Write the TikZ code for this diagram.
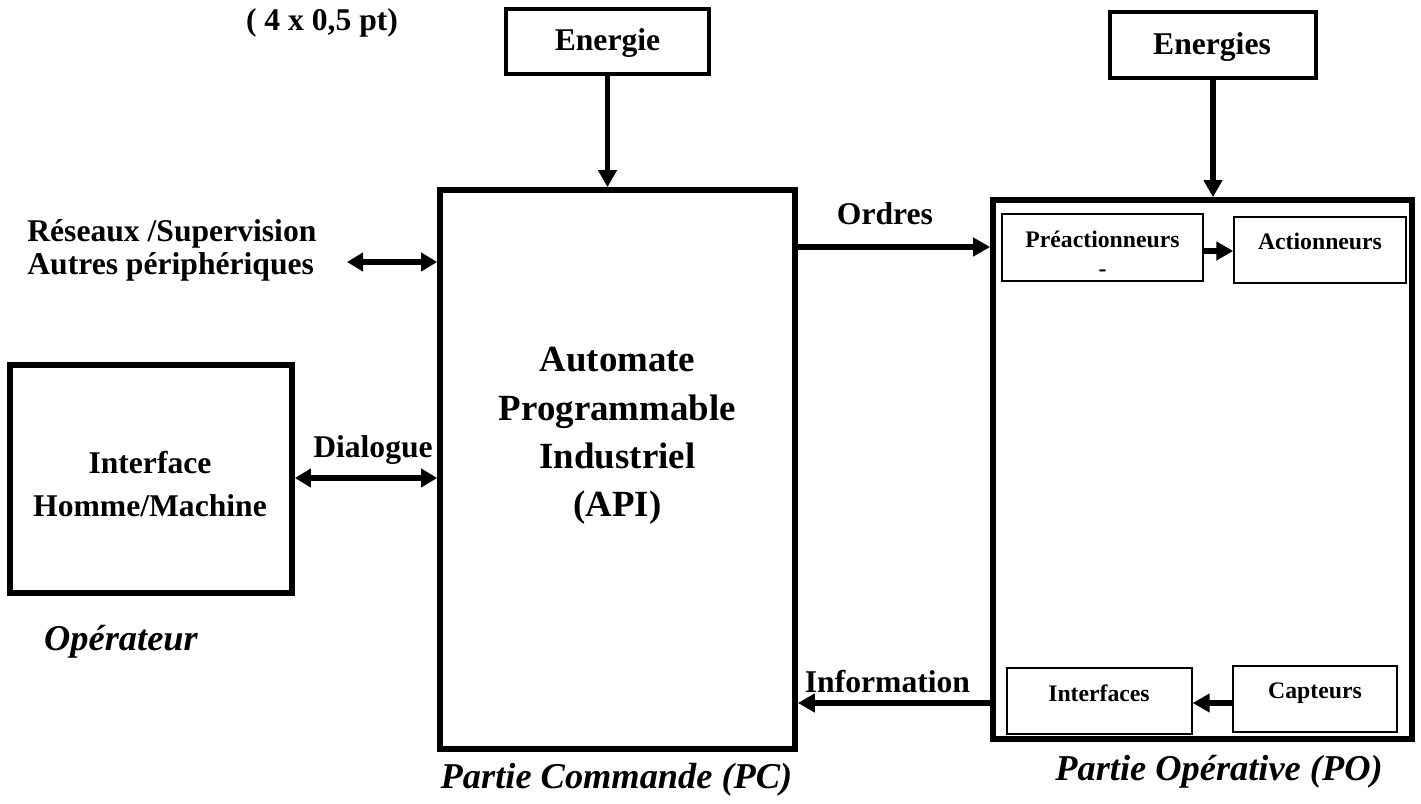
\documentclass[tikz,border=0pt]{standalone}
\usepackage{fontspec}
\setmainfont{Liberation Serif}
\usetikzlibrary{arrows.meta}
\begin{document}
\begin{tikzpicture}[x=0.02cm,y=-0.02cm,
  bigbox/.style={draw, line width=3.3pt, inner sep=0pt},
  enbox/.style={draw, line width=2.8pt, inner sep=0pt},
  thinbox/.style={draw, line width=0.8pt, inner sep=0pt},
  lbl/.style={inner sep=0pt, font=\bfseries\fontsize{18}{21.6}\selectfont},
  sml/.style={inner sep=0pt, font=\bfseries\fontsize{13.5}{16.5}\selectfont},
  apitxt/.style={inner sep=0pt, align=center, font=\bfseries\fontsize{21}{27.5}\selectfont},
  ital/.style={inner sep=0pt, font=\bfseries\itshape\fontsize{20.7}{24}\selectfont},
  arr/.style={line width=3.2pt, -{Triangle[length=0.34cm,width=0.36cm]}},
  darr/.style={line width=3.2pt, {Triangle[length=0.32cm,width=0.36cm]}-{Triangle[length=0.32cm,width=0.36cm]}}
]
\useasboundingbox (0,0) rectangle (1421,804);

% boxes
\node[enbox, minimum width=4.06cm, minimum height=1.30cm] (energie) at (607.5,41.5) {};
\node[enbox, minimum width=4.12cm, minimum height=1.32cm] (energies) at (1213,45) {};
\node[bigbox, minimum width=7.10cm, minimum height=11.18cm] (api) at (617.5,469.5) {};
\node[bigbox, minimum width=8.38cm, minimum height=10.78cm] (po) at (1202.5,469.5) {};
\node[bigbox, minimum width=5.64cm, minimum height=4.56cm] (ihm) at (151,479) {};
\node[thinbox, minimum width=4.02cm, minimum height=1.34cm] (pre) at (1102.5,247.5) {};
\node[thinbox, minimum width=3.44cm, minimum height=1.32cm] (act) at (1320,250) {};
\node[thinbox, minimum width=3.70cm, minimum height=1.32cm] (intf) at (1099.5,701) {};
\node[thinbox, minimum width=3.28cm, minimum height=1.32cm] (capt) at (1315,699) {};

% texts
\node[lbl, anchor=base] (note) at (322,31) {( 4 x 0,5 pt)};
\node[lbl, anchor=base] (energieT) at (607.5,51) {Energie};
\node[lbl, anchor=base] (energiesT) at (1212,55) {Energies};
\node[lbl, anchor=north west, align=left, font=\bfseries\fontsize{18}{18.8}\selectfont] (reseaux) at (27,219) {Réseaux /Supervision\\Autres périphériques};
\node[lbl, anchor=north, align=center, font=\bfseries\fontsize{18}{24.5}\selectfont] (ihmT) at (150,451) {Interface\\Homme/Machine};
\node[apitxt, anchor=north] (apiT) at (617.5,347) {Automate\\Programmable\\Industriel\\(API)};
\node[lbl, anchor=base] (dialogue) at (373,458) {Dialogue};
\node[lbl, anchor=base] (ordres) at (885,225) {Ordres};
\node[lbl, anchor=base] (information) at (887.5,692) {Information};
\node[sml, anchor=north, align=center] (preT) at (1102.5,230.5) {Préactionneurs\\-};
\node[sml, anchor=base] (actT) at (1320,250) {Actionneurs};
\node[sml, anchor=base] (intfT) at (1099,701) {Interfaces};
\node[sml, anchor=base] (captT) at (1315,698) {Capteurs};
\node[ital, anchor=base] (operateur) at (121,650) {Opérateur};
\node[ital, anchor=base] (pc) at (616.5,788) {Partie Commande (PC)};
\node[ital, anchor=base] (pop) at (1219,780) {Partie Opérative (PO)};

% connectors
\coordinate (yOrd) at (0,247);
\coordinate (yPA) at (0,251);
\coordinate (yInf) at (0,703);
\coordinate (yDlg) at (0,478);
\coordinate (resEnd) at (347,262);

\draw[arr] (energie.south) -- (energie.south |- api.north);
\draw[arr] (energies.south) -- (energies.south |- po.north);
\draw[arr] (api.east |- yOrd) -- (po.west |- yOrd);
\draw[arr] (po.west |- yInf) -- (api.east |- yInf);
\draw[arr] (pre.east |- yPA) -- (act.west |- yPA);
\draw[arr] (capt.west |- yInf) -- (intf.east |- yInf);
\draw[darr] (ihm.east |- yDlg) -- (api.west |- yDlg);
\draw[darr] (resEnd) -- (api.west |- resEnd);
\end{tikzpicture}
\end{document}
